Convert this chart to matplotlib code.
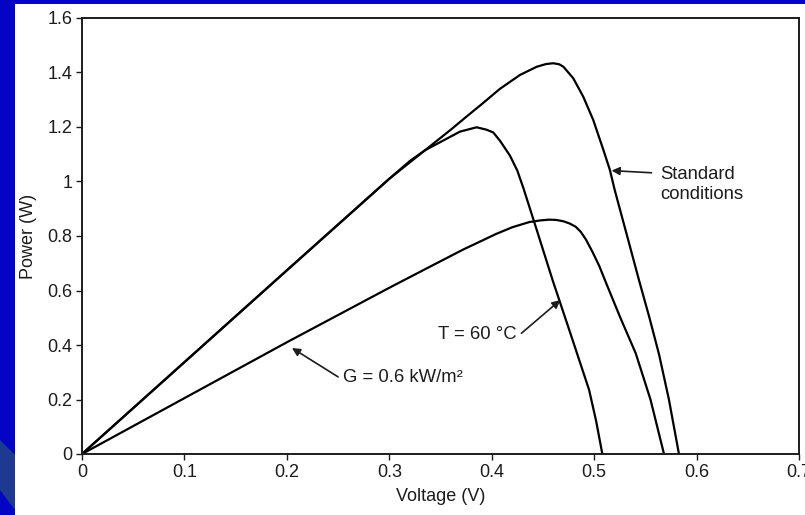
import matplotlib
matplotlib.use('Agg')
import matplotlib.pyplot as plt
from matplotlib.patches import Polygon, Rectangle

# P-V curves of a solar cell (voltage in V, power in W)
v_std = [0, 0.1, 0.2, 0.25, 0.3, 0.33, 0.36, 0.375, 0.39, 0.408, 0.4276, 0.4439,
         0.453, 0.46, 0.466, 0.47, 0.4796, 0.4894, 0.4991, 0.509, 0.5154, 0.52,
         0.534, 0.544, 0.554, 0.5634, 0.573, 0.5828]
p_std = [0, 0.337, 0.674, 0.842, 1.01, 1.10, 1.19, 1.237, 1.283, 1.34, 1.391, 1.421,
         1.431, 1.434, 1.43, 1.421, 1.379, 1.311, 1.226, 1.116, 1.042, 0.97,
         0.775, 0.635, 0.50, 0.365, 0.20, 0.0]

v_t60 = [0, 0.1, 0.2, 0.25, 0.3, 0.32, 0.335, 0.35, 0.369, 0.3853, 0.395, 0.4015,
         0.408, 0.4178, 0.425, 0.431, 0.445, 0.4594, 0.4775, 0.4951, 0.502, 0.508]
p_t60 = [0, 0.337, 0.674, 0.842, 1.01, 1.075, 1.115, 1.145, 1.183, 1.199, 1.19, 1.18,
         1.15, 1.095, 1.04, 0.975, 0.81, 0.6385, 0.435, 0.2349, 0.12, 0.0]

v_g06 = [0, 0.1, 0.2, 0.3, 0.339, 0.372, 0.404, 0.42, 0.4366, 0.447, 0.456, 0.463,
         0.47, 0.476, 0.482, 0.487, 0.492, 0.4984, 0.505, 0.5113, 0.5256, 0.5406,
         0.555, 0.5682]
p_g06 = [0, 0.205, 0.41, 0.61, 0.686, 0.75, 0.807, 0.832, 0.851, 0.857, 0.86, 0.859,
         0.854, 0.846, 0.834, 0.815, 0.787, 0.7415, 0.69, 0.631, 0.50, 0.3695,
         0.20, 0.0]

x_ticks = [0, 0.1, 0.2, 0.3, 0.4, 0.5, 0.6, 0.7]
x_labels = ['0', '0.1', '0.2', '0.3', '0.4', '0.5', '0.6', '0.7']
y_ticks = [0, 0.2, 0.4, 0.6, 0.8, 1.0, 1.2, 1.4, 1.6]
y_labels = ['0', '0.2', '0.4', '0.6', '0.8', '1', '1.2', '1.4', '1.6']

plt.rcParams['font.family'] = ['Liberation Sans', 'DejaVu Sans']
ink = '#1c1c1c'

W, H = 805, 515
fig = plt.figure(figsize=(W / 100, H / 100), dpi=100, facecolor='#0404c4')

# white slide panel plus the lighter blue corner band
fig.patches.append(Rectangle((15 / W, 0), 1 - 15 / W, (H - 4) / H,
                             transform=fig.transFigure, facecolor='white',
                             edgecolor='none', zorder=-10))
band = [(0, 440), (15, 455), (15, 510), (0, 490)]
fig.patches.append(Polygon([(x / W, 1 - y / H) for x, y in band], closed=True,
                           transform=fig.transFigure, facecolor='#1e3a90',
                           edgecolor='none', zorder=-10))

ax = fig.add_axes([82 / W, 61 / H, (799 - 82) / W, (454 - 18) / H])
ax.set_facecolor('none')
ax.set_zorder(1)

for v, p in [(v_std, p_std), (v_t60, p_t60), (v_g06, p_g06)]:
    ax.plot(v, p, color='black', lw=1.6, solid_joinstyle='round')

ax.set_xlim(0, 0.7)
ax.set_ylim(0, 1.6)
ax.set_xticks(x_ticks)
ax.set_xticklabels(x_labels)
ax.set_yticks(y_ticks)
ax.set_yticklabels(y_labels)
ax.tick_params(direction='out', length=4, width=1, colors=ink, labelsize=13, pad=3)
for s in ax.spines.values():
    s.set_linewidth(1.4)
    s.set_color(ink)

ax.set_xlabel('Voltage (V)', fontsize=13, color=ink, labelpad=5)
ax.set_ylabel('Power (W)', fontsize=13, color=ink, labelpad=7)

arrow = dict(arrowstyle='-|>', color=ink, lw=1.2, mutation_scale=12,
             shrinkA=0, shrinkB=0)

ax.text(0.5645, 0.99, 'Standard\nconditions', fontsize=13.3, color=ink,
        ha='left', va='center', linespacing=1.2)
ax.annotate('', xy=(0.517, 1.04), xytext=(0.556, 1.032), arrowprops=arrow)

ax.text(0.4248, 0.437, 'T = 60 °C', fontsize=13.3, color=ink, ha='right', va='center')
ax.annotate('', xy=(0.467, 0.565), xytext=(0.429, 0.443), arrowprops=arrow)

ax.text(0.2549, 0.279, 'G = 0.6 kW/m²', fontsize=13.3, color=ink, ha='left', va='center')
ax.annotate('', xy=(0.205, 0.389), xytext=(0.25, 0.283), arrowprops=arrow)

fig.savefig('out.png', dpi=100, facecolor=fig.get_facecolor())
